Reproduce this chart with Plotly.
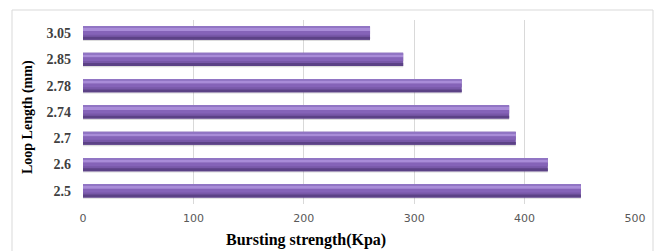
import plotly.graph_objects as go

loop_length = ["2.5", "2.6", "2.7", "2.74", "2.78", "2.85", "3.05"]
bursting_strength = [451, 421, 392, 386, 343, 290, 260]
x_ticks = [0, 100, 200, 300, 400, 500]

W, H = 658, 251
L, R, T, B = 83, 23, 20, 47
pw, ph = W - L - R, H - T - B

def px_x(x):
    return (x - L) / pw

def px_y(y):
    return (H - B - y) / ph

fig = go.Figure()

# shadow
fig.add_trace(go.Bar(y=loop_length, x=bursting_strength, orientation="h",
                     marker=dict(color="rgba(60,60,60,0.18)", line=dict(width=0)),
                     offset=-0.30, width=0.54, hoverinfo="skip", showlegend=False))
# base body
fig.add_trace(go.Bar(y=loop_length, x=bursting_strength, orientation="h",
                     marker=dict(color="#7858a8", line=dict(width=0)),
                     offset=-0.25, width=0.5, hoverinfo="skip", showlegend=False))
# dark lower band
fig.add_trace(go.Bar(y=loop_length, x=bursting_strength, orientation="h",
                     marker=dict(color="#5c4286", line=dict(width=0)),
                     offset=-0.25, width=0.11, hoverinfo="skip", showlegend=False))
# mid band
fig.add_trace(go.Bar(y=loop_length, x=bursting_strength, orientation="h",
                     marker=dict(color="#8563b8", line=dict(width=0)),
                     offset=-0.06, width=0.14, hoverinfo="skip", showlegend=False))
# highlight band
fig.add_trace(go.Bar(y=loop_length, x=bursting_strength, orientation="h",
                     marker=dict(color="#a98cd8", line=dict(width=0)),
                     offset=0.08, width=0.12, hoverinfo="skip", showlegend=False))
# top edge
fig.add_trace(go.Bar(y=loop_length, x=bursting_strength, orientation="h",
                     marker=dict(color="#9175c4", line=dict(width=0)),
                     offset=0.20, width=0.05, hoverinfo="skip", showlegend=False))

fig.update_layout(
    width=W, height=H,
    margin=dict(l=L, r=R, t=T, b=B),
    paper_bgcolor="white", plot_bgcolor="white",
    barmode="overlay",
    showlegend=False,
    xaxis=dict(range=[0, 500], tickvals=x_ticks, showgrid=True, gridcolor="#d9d9d9",
               gridwidth=1, zeroline=False, showline=False, ticks="",
               tickfont=dict(family="DejaVu Sans", size=11, color="#595959"),
               ticklabelstandoff=6, fixedrange=True),
    yaxis=dict(categoryorder="array", categoryarray=loop_length, showgrid=False,
               zeroline=False, showline=False, ticks="",
               tickfont=dict(family="Liberation Serif", size=14, color="#404040",
                             weight="bold"),
               ticklabelstandoff=11, fixedrange=True),
    shapes=[dict(type="rect", xref="paper", yref="paper",
                 x0=px_x(12), x1=px_x(653), y0=px_y(262), y1=px_y(10),
                 line=dict(color="#d9d9d9", width=1), fillcolor="rgba(0,0,0,0)",
                 layer="below")],
    annotations=[
        dict(text="<b>Bursting strength(Kpa)</b>", xref="paper", yref="paper",
             x=px_x(306), y=px_y(240), showarrow=False, xanchor="center", yanchor="middle",
             font=dict(family="Liberation Serif", size=16, color="#000000")),
        dict(text="<b>Loop Length (mm)</b>", xref="paper", yref="paper",
             x=px_x(28), y=px_y(117), showarrow=False, xanchor="center", yanchor="middle",
             textangle=-90,
             font=dict(family="Liberation Serif", size=14, color="#000000")),
    ],
)

fig.write_html("out.html", config={"displayModeBar": False},
               post_script="document.body.style.margin='0';document.body.style.overflow='hidden';")
